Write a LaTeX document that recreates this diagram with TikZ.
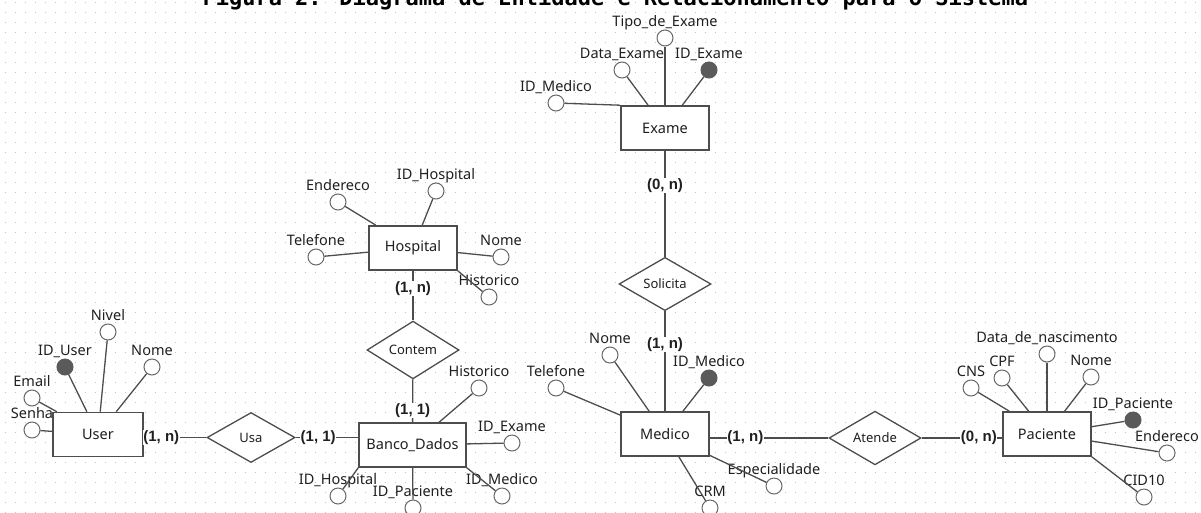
\documentclass[tikz,border=0pt]{standalone}
\usepackage{fontspec}
\setmainfont{Noto Sans}
\newfontfamily\titlefont{DejaVu Sans Mono}
\newfontfamily\cardfont{Liberation Sans}
\usetikzlibrary{shapes.geometric,positioning}

\definecolor{erline}{HTML}{4D4D4D}
\definecolor{erkey}{HTML}{5A5A5A}
\definecolor{ertext}{HTML}{1F1F1F}
\definecolor{ergrid}{HTML}{C4C4C4}

\tikzset{
  entity/.style={draw=erline, line width=1.6pt, fill=white, minimum width=88pt,
    minimum height=44pt, text=ertext, font=\fontsize{14.5}{16}\selectfont},
  relation/.style={draw=erline, line width=1.3pt, diamond, fill=white, inner sep=0pt,
    minimum width=92pt, minimum height=50pt, text=ertext, font=\fontsize{13}{15}\selectfont},
  attr/.style={draw=erline!85, line width=1pt, circle, fill=white, minimum size=16pt,
    inner sep=0pt, label distance=0.5pt},
  keyattr/.style={attr, draw=erkey, fill=erkey},
  attrlabel/.style={inner sep=0pt, text height=10pt, text depth=3pt, text=ertext,
    font=\fontsize{14.5}{16}\selectfont},
  card/.style={fill=white, inner sep=0.5pt, text=ertext, font=\cardfont\bfseries\fontsize{15}{17}\selectfont},
  link/.style={draw=erline, line width=1.3pt},
}

\begin{document}
\begin{tikzpicture}[x=1pt, y=-1pt]
  \useasboundingbox (0,0) rectangle (1201,512);
  \clip (0,0) rectangle (1201,512);

  % dotted grid
  \foreach \r in {0,...,51}
    \draw[ergrid, line width=1pt, dash pattern=on 1pt off 9pt] (4.5,\r*10+2) -- (1201,\r*10+2);

  \node[anchor=base west, text=black, font=\titlefont\bfseries\fontsize{22}{24}\selectfont] (titulo) at (199,5)
    {Figura 2. Diagrama de Entidade e Relacionamento para o Sistema};

  % entidades
  \node[entity] (exame) at (665,128) {Exame};
  \node[entity] (hospital) at (413,248) {Hospital};
  \node[entity, minimum width=90pt] (user) at (98,434.5) {User};
  \node[entity, minimum width=107pt] (banco) at (412.5,445) {Banco\_Dados};
  \node[entity] (medico) at (665,434) {Medico};
  \node[entity] (paciente) at (1047,434) {Paciente};

  % relacionamentos
  \node[relation] (solicita) at (665,284) {Solicita};
  \node[relation] (contem) at (413,350) {Contem};
  \node[relation, minimum width=88pt] (usa) at (251,437.5) {Usa};
  \node[relation] (atende) at (875,438) {Atende};

  % atributos de Exame
  \node[attr, label={[attrlabel]above:Tipo\_de\_Exame}] (tipoexame) at (665,38) {};
  \node[attr, label={[attrlabel]above:Data\_Exame}] (dataexame) at (622,70) {};
  \node[keyattr, label={[attrlabel]above:ID\_Exame}] (idexame) at (709,70) {};
  \node[attr, label={[attrlabel]above:ID\_Medico}] (exmedico) at (556,103) {};
  \draw[link] (tipoexame) -- (exame);
  \draw[link] (dataexame) -- (exame);
  \draw[link] (idexame) -- (exame);
  \draw[link] (exmedico) -- (exame.north west);

  % atributos de Hospital
  \node[attr, label={[attrlabel]above:ID\_Hospital}] (idhospital) at (436,191) {};
  \node[attr, label={[attrlabel]above:Endereco}] (hosendereco) at (338,202) {};
  \node[attr, label={[attrlabel]above:Telefone}] (hostelefone) at (316,257) {};
  \node[attr, label={[attrlabel]above:Nome}] (hosnome) at (501,257) {};
  \node[attr, label={[attrlabel]above:Historico}] (hoshistorico) at (489,297) {};
  \draw[link] (idhospital) -- (hospital);
  \draw[link] (hosendereco) -- (hospital);
  \draw[link] (hostelefone) -- (hospital);
  \draw[link] (hosnome) -- (hospital);
  \draw[link] (hoshistorico) -- (hospital.south east);

  % atributos de User
  \node[attr, label={[attrlabel]above:Nivel}] (usernivel) at (108,332) {};
  \node[keyattr, label={[attrlabel]above:ID\_User}] (iduser) at (65,367) {};
  \node[attr, label={[attrlabel]above:Nome}] (usernome) at (152,367) {};
  \node[attr, label={[attrlabel]above:Email}] (useremail) at (32,398) {};
  \node[attr, label={[attrlabel]above:Senha}] (usersenha) at (32,430) {};
  \draw[link] (usernivel) -- (user);
  \draw[link] (iduser) -- (user);
  \draw[link] (usernome) -- (user);
  \draw[link] (useremail) -- (user);
  \draw[link] (usersenha) -- (user);

  % atributos de Banco_Dados
  \node[attr, label={[attrlabel]above:Historico}] (bdhistorico) at (479,388) {};
  \node[attr, label={[attrlabel]above:ID\_Exame}] (bdexame) at (512,443) {};
  \node[attr, label={[attrlabel]above:ID\_Medico}] (bdmedico) at (502,496) {};
  \node[attr, label={[attrlabel]above:ID\_Paciente}] (bdpaciente) at (413,508) {};
  \node[attr, label={[attrlabel]above:ID\_Hospital}] (bdhospital) at (338,496) {};
  \draw[link] (bdhistorico) -- (banco);
  \draw[link] (bdexame) -- (banco);
  \draw[link] (bdmedico) -- (banco.south east);
  \draw[link] (bdpaciente) -- (banco);
  \draw[link] (bdhospital) -- (banco.south west);

  % atributos de Medico
  \node[attr, label={[attrlabel]above:Nome}] (mednome) at (610,355) {};
  \node[attr, label={[attrlabel]above:Telefone}] (medtelefone) at (556,388) {};
  \node[keyattr, label={[attrlabel]above:ID\_Medico}] (idmedico) at (709,378) {};
  \node[attr, label={[attrlabel]above:Especialidade}] (medespecialidade) at (774,486) {};
  \node[attr, label={[attrlabel]above:CRM}] (medcrm) at (710,508) {};
  \draw[link] (mednome) -- (medico);
  \draw[link] (medtelefone) -- (medico);
  \draw[link] (idmedico) -- (medico);
  \draw[link] (medespecialidade) -- (medico);
  \draw[link] (medcrm) -- (medico);

  % atributos de Paciente
  \node[attr, label={[attrlabel]above:CNS}] (paccns) at (971,388) {};
  \node[attr, label={[attrlabel]above:CPF}] (paccpf) at (1002,378) {};
  \node[attr, label={[attrlabel]above:Data\_de\_nascimento}] (pacnascimento) at (1047,354) {};
  \node[attr, label={[attrlabel]above:Nome}] (pacnome) at (1091,377) {};
  \node[keyattr, label={[attrlabel]above:ID\_Paciente}] (idpaciente) at (1133,420) {};
  \node[attr, label={[attrlabel]above:Endereco}] (pacendereco) at (1167,453) {};
  \node[attr, label={[attrlabel]above:CID10}] (paccid) at (1144,497) {};
  \draw[link] (paccns) -- (paciente);
  \draw[link] (paccpf) -- (paciente);
  \draw[link] (pacnascimento) -- (paciente);
  \draw[link] (pacnome) -- (paciente);
  \draw[link] (idpaciente) -- (paciente);
  \draw[link] (pacendereco) -- (paciente);
  \draw[link] (paccid) -- (paciente.south east);

  % ligacoes com cardinalidade
  \draw[link] (exame) -- node[card, pos=0.33] {(0, n)} (solicita);
  \draw[link] (solicita) -- node[card, pos=0.33] {(1, n)} (medico);
  \draw[link] (hospital) -- node[card, pos=0.35] {(1, n)} (contem);
  \draw[link] (contem) -- node[card, pos=0.73] {(1, 1)} (banco);
  \draw[link] (user.east |- usa.west) -- node[card, pos=0.28] {(1, n)} (usa.west);
  \draw[link] (usa.east) -- node[card, pos=0.36] {(1, 1)} (usa.east -| banco.west);
  \draw[link] (medico.east |- atende.west) -- node[card, pos=0.3] {(1, n)} (atende.west);
  \draw[link] (atende.east) -- node[card, pos=0.71] {(0, n)} (atende.east -| paciente.west);
\end{tikzpicture}
\end{document}
